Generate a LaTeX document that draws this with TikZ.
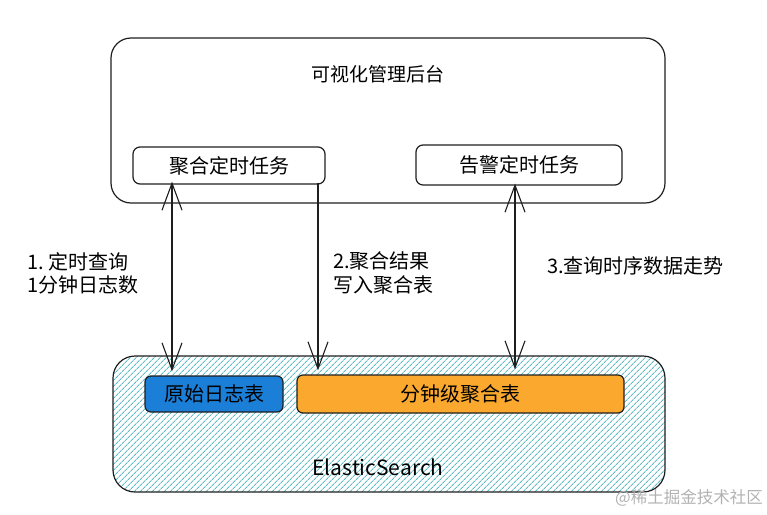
\documentclass[tikz,border=0pt]{standalone}
\usepackage{fontspec}
\newfontfamily\cjk{Noto Sans CJK SC}
\usetikzlibrary{arrows.meta,patterns.meta}
\definecolor{ink}{HTML}{1E1E1E}
\definecolor{hatch}{HTML}{5DBDC6}
\definecolor{rawblue}{HTML}{1B7FD8}
\definecolor{aggorange}{HTML}{FBA92E}
\begin{document}
\begin{tikzpicture}[x=1pt,y=-1pt,>={Straight Barb[length=27pt,width=20pt]},
	font=\cjk\fontsize{20}{23.5}\selectfont,
	box/.style={draw=ink,line width=1.2pt,rounded corners=#1,inner sep=0pt},
	lbl/.style={anchor=west,align=left,inner sep=0pt},
	link/.style={draw=ink,line width=1.1pt}]
				\useasboundingbox (0,0) rectangle (767,514);
				\node[box=20pt,minimum width=554pt,minimum height=165pt] (admin) at (388,120.5) {};
				\node[font=\cjk\fontsize{19}{23}\selectfont] (title) at (378,74) {可视化管理后台};
				\node[box=7pt,minimum width=192pt,minimum height=37pt] (aggjob) at (229,165.5) {聚合定时任务};
				\node[box=7pt,minimum width=206pt,minimum height=40pt] (alarmjob) at (519,165) {告警定时任务};
				\node[box=22pt,minimum width=552pt,minimum height=136pt,pattern={Lines[angle=45,distance=4pt,line width=1pt]},pattern color=hatch] (es) at (389,424) {};
				\node[box=6pt,fill=rawblue,minimum width=138pt,minimum height=36pt] (rawlog) at (214,394) {原始日志表};
				\node[box=6pt,fill=aggorange,minimum width=327pt,minimum height=38pt] (minagg) at (460.5,394) {分钟级聚合表};
				\node[font=\cjk\fontsize{21}{23}\selectfont] (estext) at (378,467) {ElasticSearch};
				\coordinate (q1) at (172,0);
				\coordinate (q2) at (318,0);
				\coordinate (q3) at (515,0);
				\draw[link,<->] ([yshift=3pt]aggjob.south -| q1) -- ([yshift=4pt]rawlog.north -| q1);
				\draw[link,->] ([yshift=2pt]aggjob.south -| q2) -- ([yshift=4pt]minagg.north -| q2);
				\draw[link,<->] ([yshift=2pt]alarmjob.south -| q3) -- ([yshift=5pt]minagg.north -| q3);
				\node[lbl] (l1) at (27,273.5) {1.~定时查询\\1分钟日志数};
				\node[lbl] (l2) at (333,273) {2.聚合结果\\写入聚合表};
				\node[lbl] (l3) at (547,266) {3.查询时序数据走势};
				\node[anchor=east,inner sep=0pt,text=black!30,font=\cjk\fontsize{16.5}{18}\selectfont] (mark) at (763,498) {@稀土掘金技术社区};
			\end{tikzpicture}
\end{document}
